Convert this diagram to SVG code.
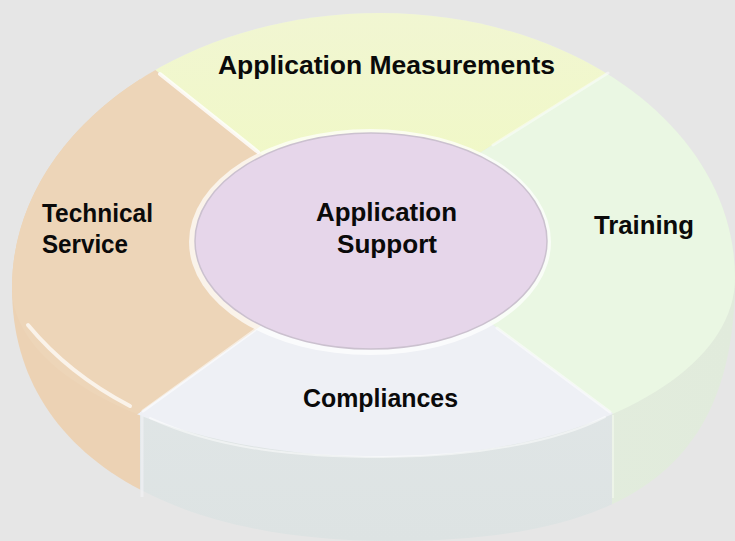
<svg xmlns="http://www.w3.org/2000/svg" width="735" height="541" viewBox="0 0 735 541">
  <defs>
    <style>
      .lbl { font-family: "Liberation Sans", Arial, "Noto Sans", sans-serif; font-weight: 700; font-size: 26px; fill: #0a0a0a; }
      .div { fill: none; stroke: #ffffff; stroke-linecap: round; }
    </style>
    <path id="topSurf" d="M12,288 C12,135 177,13 380,13 C576,13 735,130 735,278 C735,378 577,457 383,457 C178,457 12,380 12,288 Z"/>
    <path id="silhouette" d="M12,288 C12,135 177,13 380,13 C576,13 735,130 735,278 C735,465 632,541 390,541 C156,541 12,446 12,288 Z"/>
    <clipPath id="cTop"><polygon points="371,241 292,179 55,-10 713,6 456,168"/></clipPath>
    <clipPath id="cRight"><polygon points="371,241 456,168 713,6 800,6 800,481 704,481 462,302"/></clipPath>
    <clipPath id="cBottom"><polygon points="371,241 462,302 704,481 704,600 48,600 48,478 290,305"/></clipPath>
    <clipPath id="cLeft"><polygon points="371,241 290,305 48,478 -50,478 -50,-10 55,-10 292,179"/></clipPath>
    <clipPath id="cSideL"><rect x="0" y="0" width="140" height="541"/></clipPath>
    <clipPath id="cSideM"><rect x="140" y="0" width="472" height="541"/></clipPath>
    <clipPath id="cSideR"><rect x="612" y="0" width="123" height="541"/></clipPath>
    <linearGradient id="gYellow" x1="0" y1="0" x2="0" y2="1">
      <stop offset="0" stop-color="#f1f6d2"/>
      <stop offset="0.5" stop-color="#f0f9c2"/>
      <stop offset="1" stop-color="#eef8bd"/>
    </linearGradient>
    <linearGradient id="gSideM" x1="0" y1="0" x2="0" y2="1">
      <stop offset="0" stop-color="#e6ebed"/>
      <stop offset="1" stop-color="#dde3e3"/>
    </linearGradient>
    <linearGradient id="gSideR" x1="0" y1="0" x2="1" y2="0">
      <stop offset="0" stop-color="#e6f1df"/>
      <stop offset="1" stop-color="#e1ebdc"/>
    </linearGradient>
  </defs>

  <rect width="735" height="541" fill="#e6e6e6"/>

  <!-- side walls -->
  <g id="side-walls">
    <use href="#silhouette" fill="#ecd2b4" clip-path="url(#cSideL)"/>
    <use href="#silhouette" fill="url(#gSideM)" clip-path="url(#cSideM)"/>
    <use href="#silhouette" fill="url(#gSideR)" clip-path="url(#cSideR)"/>
    <line x1="142" y1="416" x2="142" y2="497" stroke="#f4f4f8" stroke-width="3" opacity="0.6"/>
    <line x1="613" y1="415" x2="613" y2="498" stroke="#f2f8ee" stroke-width="2" opacity="0.7"/>
  </g>

  <g id="node-application-measurements">
    <use href="#topSurf" fill="url(#gYellow)" clip-path="url(#cTop)"/>
    <text class="lbl" x="218" y="74" textLength="337" lengthAdjust="spacingAndGlyphs">Application Measurements</text>
  </g>

  <g id="node-training">
    <use href="#topSurf" fill="#eaf7e3" clip-path="url(#cRight)"/>
    <text class="lbl" x="594" y="234" textLength="100" lengthAdjust="spacingAndGlyphs">Training</text>
  </g>

  <g id="node-compliances">
    <use href="#topSurf" fill="#eef0f5" clip-path="url(#cBottom)"/>
    <text class="lbl" x="303" y="407" textLength="155" lengthAdjust="spacingAndGlyphs">Compliances</text>
  </g>

  <g id="node-technical-service">
    <use href="#topSurf" fill="#edd5b8" clip-path="url(#cLeft)"/>
    <text class="lbl" x="42" y="222" textLength="111" lengthAdjust="spacingAndGlyphs">Technical</text>
    <text class="lbl" x="42" y="253" textLength="86" lengthAdjust="spacingAndGlyphs">Service</text>
  </g>

  <!-- segment dividers and edge highlights -->
  <g id="dividers">
    <line class="div" x1="160" y1="74" x2="258" y2="152" stroke-width="4" opacity="0.8"/>
    <line class="div" x1="608" y1="73" x2="493" y2="145" stroke-width="3" opacity="0.45"/>
    <line class="div" x1="610" y1="412" x2="497" y2="328" stroke-width="3" opacity="0.5"/>
    <line class="div" x1="143" y1="411" x2="255" y2="330" stroke-width="3" opacity="0.55"/>
    <path class="div" d="M28,325 C52,354 82,381 130,406" stroke-width="4" opacity="0.7"/>
    <path class="div" d="M150,418 C220,450 300,457 383,457 C480,457 560,440 605,417" stroke-width="2" opacity="0.5"/>
  </g>

  <g id="node-application-support">
    <ellipse cx="370" cy="242" rx="181" ry="113" fill="#ffffff" opacity="0.7"/>
    <ellipse cx="371" cy="241" rx="176" ry="108" fill="#e6d6ea" stroke="#cbc1cf" stroke-width="1.5"/>
    <text class="lbl" x="316" y="221" textLength="141" lengthAdjust="spacingAndGlyphs">Application</text>
    <text class="lbl" x="337" y="253" textLength="100" lengthAdjust="spacingAndGlyphs">Support</text>
  </g>
</svg>
